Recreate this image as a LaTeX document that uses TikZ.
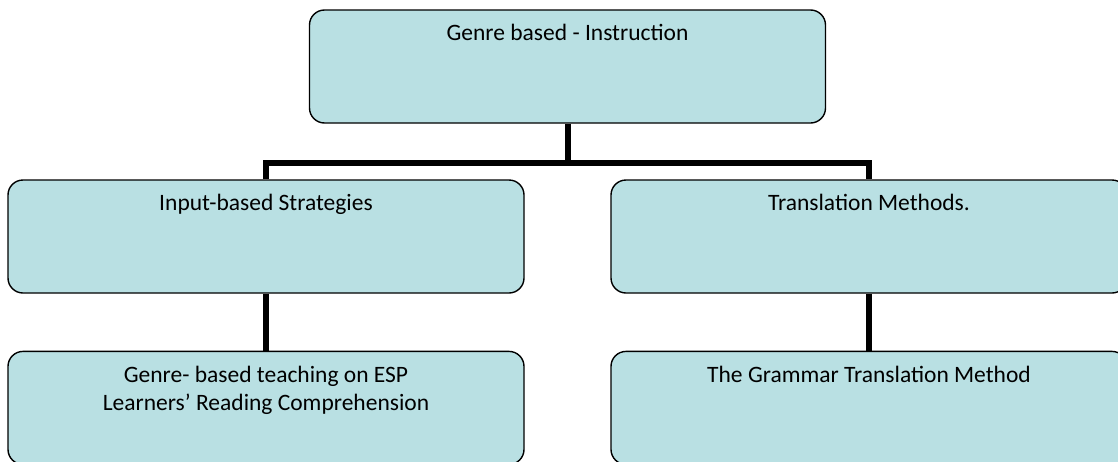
\documentclass[tikz,border=0pt]{standalone}
\usepackage{fontspec}
\setmainfont{Carlito}
\usetikzlibrary{positioning}
\definecolor{boxfill}{RGB}{185,224,227}

\begin{document}
\begin{tikzpicture}[x=1pt, y=1pt,
	box/.style = { draw=black, line width=1.4pt, fill=boxfill,
			rounded corners=15pt, minimum width=516pt,
			minimum height=113pt, inner sep=0pt },
	txt/.style = { anchor=north, inner sep=0pt, align=center,
			font=\fontsize{23.5}{28.5}\selectfont },
	link/.style = { line width=6pt, draw=black }]

  \clip (0,0) rectangle (1118,-461);
  \fill[white] (0,0) rectangle (1118,-461);

  \node[name=genre, box] at (567.5,-66.5) {};
  \node[name=input, box] at (266,-236.5) {};
  \node[name=trans, box] at (869,-236.5) {};
  \node[name=espread, box, below=57pt of input] {};
  \node[name=grammar, box, below=57pt of trans] {};

  \node[name=genretxt, txt, below=15pt of genre.north]
	{Genre based - Instruction};
  \node[name=inputtxt, txt, below=15pt of input.north]
	{Input-based Strategies};
  \node[name=transtxt, txt, below=15pt of trans.north]
	{Translation Methods.};
  \node[name=esptxt, txt, below=15pt of espread.north]
	{Genre- based teaching on ESP\\ Learners’ Reading Comprehension};
  \node[name=grammartxt, txt, below=15pt of grammar.north]
	{The Grammar Translation Method};

  \coordinate[name=fork, below=39pt of genre.south];
  \draw[link] (genre.south) -- (fork);
  \draw[link] (input.north) |- (fork) -| (trans.north);
  \draw[link] (input.south) -- (espread.north);
  \draw[link] (trans.south) -- (grammar.north);
\end{tikzpicture}
\end{document}
